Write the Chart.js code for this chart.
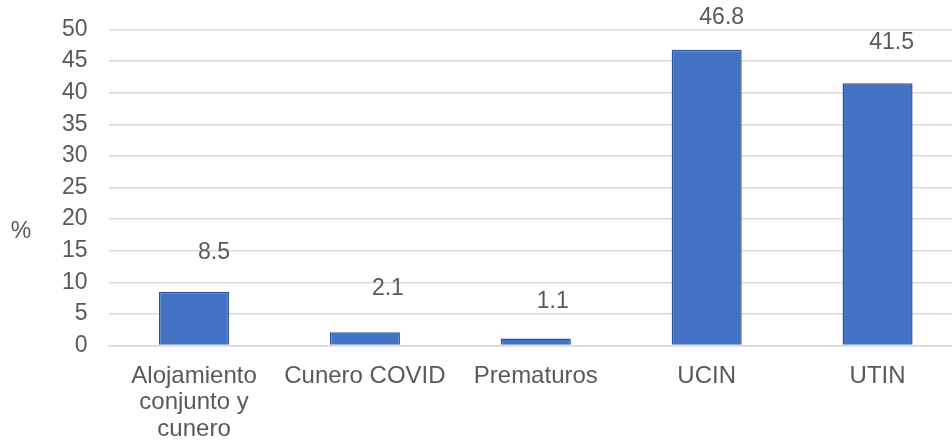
<!DOCTYPE html>
<html>
<head>
<meta charset="utf-8">
<script src="https://cdn.jsdelivr.net/npm/chart.js@4/dist/chart.umd.min.js"></script>
<style>
  html, body { margin: 0; padding: 0; background: #ffffff; overflow: hidden; }
  #wrap { width: 963px; height: 442px; }
</style>
</head>
<body>
<div id="wrap"><canvas id="c" width="963" height="442"></canvas></div>
<script>
// Servicio hospitalario y porcentaje correspondiente
const categories = [
  ["Alojamiento", "conjunto y", "cunero"],
  "Cunero COVID",
  "Prematuros",
  "UCIN",
  "UTIN"
];
const values = [8.5, 2.1, 1.1, 46.8, 41.5];
const yTicks = [0, 5, 10, 15, 20, 25, 30, 35, 40, 45, 50];
const yTitle = "%";

// Desplazamiento manual de cada etiqueta de valor respecto al extremo de su barra
const labelShiftX = [20, 23, 17, 15, 14];
const labelShiftY = [-39, -44, -37, -32, -41];

const textColor = "#595959";
const fontFamily = "'Liberation Sans', Arial, sans-serif";
const valueFontSize = 23;
const tickFontSize = 23;
const categoryFontSize = 24;

const valueLabels = {
  id: "valueLabels",
  afterDatasetsDraw(chart) {
    const ctx = chart.ctx;
    const meta = chart.getDatasetMeta(0);
    ctx.save();
    ctx.font = valueFontSize + "px " + fontFamily;
    ctx.fillStyle = textColor;
    ctx.textAlign = "center";
    ctx.textBaseline = "middle";
    meta.data.forEach((bar, i) => {
      const v = chart.data.datasets[0].data[i];
      ctx.fillText(v.toFixed(1), bar.x + labelShiftX[i], bar.y + labelShiftY[i]);
    });
    ctx.restore();
  }
};

const axisTitle = {
  id: "axisTitle",
  afterDraw(chart) {
    const ctx = chart.ctx;
    const y = chart.scales.y;
    ctx.save();
    ctx.font = tickFontSize + "px " + fontFamily;
    ctx.fillStyle = textColor;
    ctx.textAlign = "center";
    ctx.textBaseline = "middle";
    ctx.fillText(yTitle, 21, y.getPixelForValue(18));
    ctx.restore();
  }
};

new Chart(document.getElementById("c"), {
  type: "bar",
  data: {
    labels: categories,
    datasets: [{
      data: values,
      backgroundColor: "#4472C4",
      borderColor: "#2F5597",
      borderWidth: 1.5,
      categoryPercentage: 1,
      barPercentage: 0.41
    }]
  },
  options: {
    responsive: false,
    animation: false,
    events: [],
    layout: { padding: 0 },
    plugins: {
      legend: { display: false },
      tooltip: { enabled: false },
      title: { display: false }
    },
    scales: {
      x: {
        grid: { display: false, drawTicks: false },
        border: { display: true, color: "#D9D9D9", width: 1.5 },
        ticks: {
          color: textColor,
          font: { family: fontFamily, size: categoryFontSize, lineHeight: 1.12 },
          padding: 17,
          maxRotation: 0,
          autoSkip: false
        },
        afterFit(scale) { scale.height = 96.5; }
      },
      y: {
        min: 0,
        max: 50,
        afterBuildTicks(scale) { scale.ticks = yTicks.map(v => ({ value: v })); },
        grid: { color: "#D9D9D9", lineWidth: 1.5, drawTicks: false },
        border: { display: false },
        ticks: {
          color: textColor,
          font: { family: fontFamily, size: tickFontSize },
          padding: 21
        },
        afterFit(scale) {
          scale.width = 108.6;
          scale.paddingTop = 29.5;
          scale.paddingBottom = 0;
        }
      }
    }
  },
  plugins: [valueLabels, axisTitle]
});
</script>
</body>
</html>
